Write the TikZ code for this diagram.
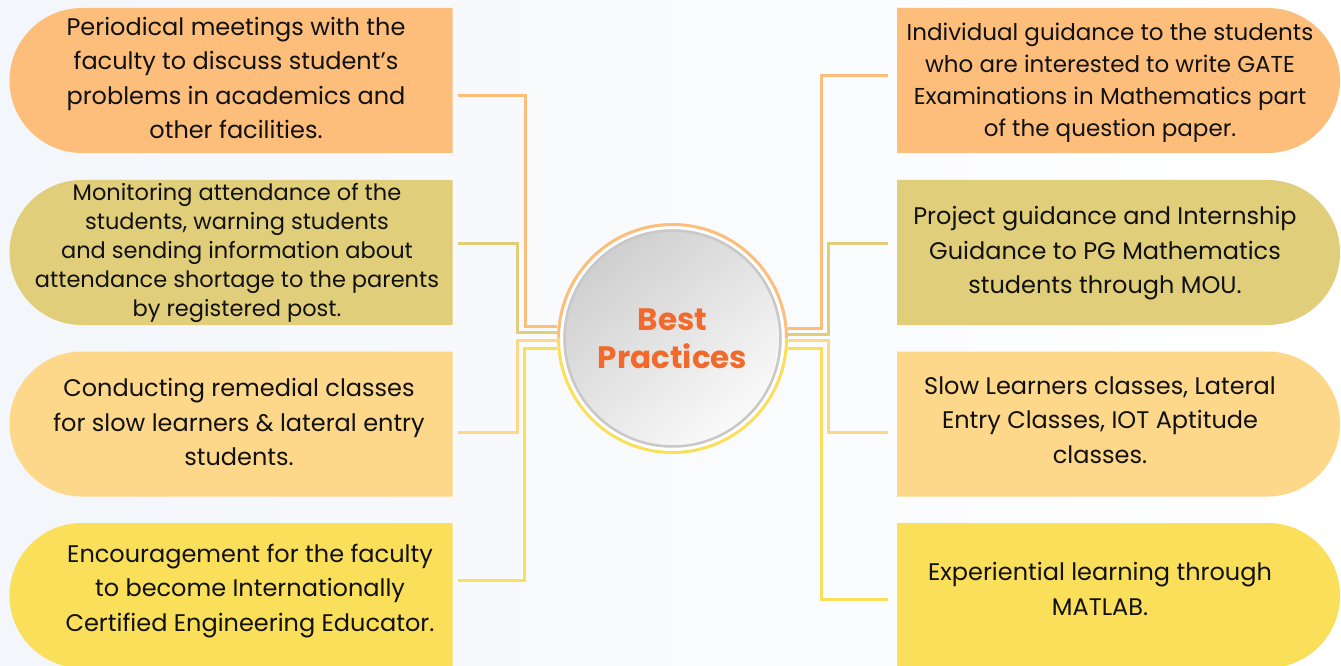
\documentclass[tikz,border=0pt]{standalone}
\usepackage{fontspec}
\setmainfont{Poppins}
\definecolor{bgL}{HTML}{F3F6FA}
\definecolor{bgR}{HTML}{FFFFFF}
\definecolor{cA}{HTML}{FDBE7B}
\definecolor{cB}{HTML}{E0CE7B}
\definecolor{cC}{HTML}{FDD78A}
\definecolor{cD}{HTML}{FADF5B}
\definecolor{ink}{HTML}{111111}
\definecolor{title}{HTML}{F26A2B}
\definecolor{discA}{HTML}{CFCFCF}
\definecolor{discB}{HTML}{FAFAFA}
\definecolor{discEdge}{HTML}{C9C7C7}
\begin{document}
\begin{tikzpicture}[x=1pt,y=1pt,
  box/.style={minimum width=443pt, minimum height=145pt, inner sep=0pt, outer sep=0pt},
  txt/.style={align=center, text=ink, inner sep=0pt, font=\fontsize{24}{34.5}\selectfont},
  conn/.style={line width=3pt, draw=#1},
]
\clip (0,0) rectangle (1341,665);
\shade[left color=bgL, right color=bgR] (0,0) rectangle (1341,665);

% box frames
\node[box] (L1) at (231,584.5) {};
\node[box] (L2) at (231,412.5) {};
\node[box] (L3) at (231,241) {};
\node[box] (L4) at (231,69.5) {};
\node[box] (R1) at (1118.5,584.5) {};
\node[box] (R2) at (1118.5,412.5) {};
\node[box] (R3) at (1118.5,241) {};
\node[box] (R4) at (1118.5,69.5) {};

\foreach \n/\c in {L1/cA,L2/cB,L3/cC,L4/cD}{
  \fill[\c] (\n.north east) -- ([xshift=72.5pt]\n.north west)
    arc[start angle=90,end angle=270,radius=72.5pt] -- (\n.south east) -- cycle;
}
\foreach \n/\c in {R1/cA,R2/cB,R3/cC,R4/cD}{
  \fill[\c] (\n.north west) -- ([xshift=-72.5pt]\n.north east)
    arc[start angle=90,end angle=-90,radius=72.5pt] -- (\n.south west) -- cycle;
}

% centre circle
\node[circle, minimum size=231pt, inner sep=0pt] (C) at (672.5,326.5) {};

% connectors
\draw[conn=cA] ([shift={(5,-15.5)}]L1.east) -- ++(68,0) |- (C.174.29);
\draw[conn=cB] ([shift={(5,8.5)}]L2.east) -- ++(60,0) |- (C.177.77);
\draw[conn=cC] ([shift={(5,-8)}]L3.east) -- ++(60,0) |- (C.181.74);
\draw[conn=cD] ([shift={(5,15.5)}]L4.east) -- ++(67,0) |- (C.185.2);
\draw[conn=cA] ([shift={(-9,4.5)}]R1.west) -- ++(-67,0) |- (C.5.71);
\draw[conn=cB] ([shift={(-9,8.5)}]R2.west) -- ++(-60,0) |- (C.2.23);
\draw[conn=cC] ([shift={(-9,-8)}]R3.west) -- ++(-60,0) |- (C.-1.74);
\draw[conn=cD] ([shift={(-9,-3.5)}]R4.west) -- ++(-67,0) |- (C.-5.2);

\fill[white] (C.center) circle[radius=114pt];
\draw[cA, line width=3pt] ([shift={(0:114pt)}]C.center) arc[start angle=0,end angle=180,radius=114pt];
\draw[cD, line width=3pt] ([shift={(180:114pt)}]C.center) arc[start angle=180,end angle=360,radius=114pt];
\shade[top color=discA, bottom color=discB, shading angle=40] (C.center) circle[radius=109pt];
\draw[discEdge, line width=2.5pt] (C.center) circle[radius=108pt];

\node[align=center, text=title, inner sep=0pt, font=\fontsize{31}{38}\selectfont\bfseries] (T) at (C.center) {Best\\Practices};

% texts
\node[txt] (tL1) at (236,587) {Periodical meetings with the\\faculty to discuss student’s\\problems in academics and\\other facilities.};
\node[txt, font=\fontsize{22.5}{29}\selectfont] (tL2) at (237,412) {Monitoring attendance of the\\students, warning students\\and sending information about\\attendance shortage to the parents\\by registered post.};
\node[txt] (tL3) at (239,243) {Conducting remedial classes\\for slow learners \& lateral entry\\students.};
\node[txt] (tL4) at (250,74) {Encouragement for the faculty\\to become Internationally\\Certified Engineering Educator.};
\node[txt, font=\fontsize{23}{32}\selectfont] (tR1) at (1110,582) {Individual guidance to the students\\who are interested to write GATE\\Examinations in Mathematics part\\of the question paper.};
\node[txt] (tR2) at (1105,411.5) {Project guidance and Internship\\Guidance to PG Mathematics\\students through MOU.};
\node[txt] (tR3) at (1100,245) {Slow Learners classes, Lateral\\Entry Classes, IOT Aptitude\\classes.};
\node[txt] (tR4) at (1100,76) {Experiential learning through\\MATLAB.};
\end{tikzpicture}
\end{document}
